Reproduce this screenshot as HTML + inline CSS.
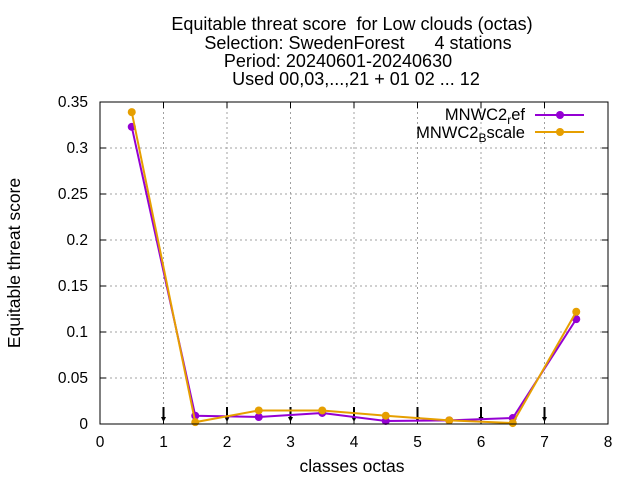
<!DOCTYPE html>
<html><head><meta charset="utf-8"><style>
body{margin:0;background:#fff}
svg{display:block;font-family:"Liberation Sans",sans-serif}
text{white-space:pre}
</style></head><body>
<svg id="chart" width="640" height="480" xmlns="http://www.w3.org/2000/svg">
<g font-size="18" text-anchor="middle" fill="#000">
<text x="352" y="30">Equitable threat score  for Low clouds (octas)</text>
<text x="358" y="49">Selection: SwedenForest      4 stations</text>
<text x="338" y="67">Period: 20240601-20240630</text>
<text x="356" y="85">Used 00,03,...,21 + 01 02 ... 12</text>
</g>
<g id="grid"></g>
<g id="axes"></g>
<g id="marks"></g>
<rect x="100" y="102" width="508" height="322" fill="none" stroke="#000" stroke-width="1"/>
<text x="352" y="472" font-size="17.5" text-anchor="middle">classes octas</text>
<text transform="translate(20,263) rotate(-90)" font-size="17.5" text-anchor="middle">Equitable threat score</text>
<g font-size="16.5" text-anchor="end">
<text x="525" y="120">MNWC2<tspan font-size="12" dy="4">r</tspan><tspan dy="-4">ef</tspan></text>
<line x1="535" y1="115" x2="584" y2="115" stroke="#9400d3" stroke-width="2"/>
<circle cx="560" cy="115" r="4" fill="#9400d3"/>
<text x="525" y="138">MNWC2<tspan font-size="12" dy="4">B</tspan><tspan dy="-4">scale</tspan></text>
<line x1="535" y1="132" x2="584" y2="132" stroke="#e69f00" stroke-width="2"/>
<circle cx="560" cy="132" r="4" fill="#e69f00"/>
</g>
</svg>
<script>
const xTicks=[0,1,2,3,4,5,6,7,8];
const yTicks=[0,0.05,0.1,0.15,0.2,0.25,0.3,0.35];
const yTickLabels=["0","0.05","0.1","0.15","0.2","0.25","0.3","0.35"];
const classes=[0.5,1.5,2.5,3.5,4.5,5.5,6.5,7.5];
const refValues=[0.323,0.009,0.0076,0.012,0.0033,0.004,0.0065,0.114];
const bscaleValues=[0.339,0.002,0.0147,0.0147,0.009,0.004,0.001,0.122];
const arrowX=[1,2,3,4,5,6,7];
const NS="http://www.w3.org/2000/svg";
const X=v=>100+v*63.5, Y=v=>424-v*920;
function mk(t,a,p){const e=document.createElementNS(NS,t);for(const k in a)e.setAttribute(k,a[k]);p.appendChild(e);return e;}
const grid=document.getElementById('grid'),axes=document.getElementById('axes'),marks=document.getElementById('marks');
xTicks.forEach(v=>{
 if(v>0&&v<8){const l=mk('line',{x1:X(v),x2:X(v),y1:102,y2:424,stroke:'#a0a0a0','stroke-dasharray':'2,3'},grid);}
 const t=mk('text',{x:X(v),y:447,'font-size':15.5,'text-anchor':'middle'},axes);t.textContent=v;
 
 mk('line',{x1:X(v),x2:X(v),y1:424,y2:418,stroke:'#000'},axes);mk('line',{x1:X(v),x2:X(v),y1:102,y2:108,stroke:'#000'},axes);
});
yTicks.forEach((v,i)=>{
 if(v>0&&v<0.35){const l=mk('line',{x1:100,x2:608,y1:Y(v),y2:Y(v),stroke:'#a0a0a0','stroke-dasharray':'2,3'},grid);}
 const t=mk('text',{x:88,y:Y(v)+5,'font-size':15.5,'text-anchor':'end'},axes);t.textContent=yTickLabels[i];
 
 mk('line',{x1:100,x2:106,y1:Y(v),y2:Y(v),stroke:'#000'},axes);mk('line',{x1:608,x2:602,y1:Y(v),y2:Y(v),stroke:'#000'},axes);
});
arrowX.forEach(v=>{
 const g=mk('g',{},marks);
 mk('line',{x1:X(v),x2:X(v),y1:407,y2:420,stroke:'#000','stroke-width':2},g);
 mk('path',{d:`M${X(v)-2.5},417 L${X(v)+2.5},417 L${X(v)},422 Z`,fill:'#000'},g);
});
function series(vals,color,name){
 const g=mk('g',{},marks);
 mk('polyline',{points:classes.map((c,i)=>X(c)+','+Y(vals[i])).join(' '),fill:'none',stroke:color,'stroke-width':2},g);
 classes.forEach((c,i)=>{const p=mk('circle',{cx:X(c),cy:Y(vals[i]),r:4,fill:color},g);});
}
series(refValues,'#9400d3','series-ref');
series(bscaleValues,'#e69f00','series-bscale');
</script>
</body></html>
